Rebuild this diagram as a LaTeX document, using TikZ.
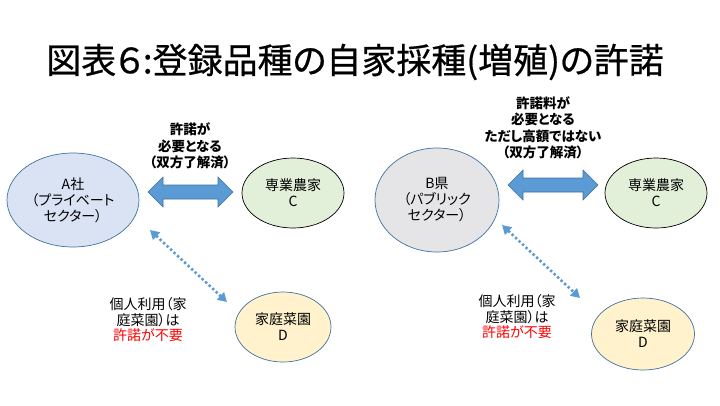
\documentclass[tikz,border=0pt]{standalone}
\usepackage{fontspec}
\setmainfont{Noto Sans CJK JP}[RawFeature=+palt]
\usetikzlibrary{arrows.meta,shapes.geometric,calc}
\definecolor{ablue}{HTML}{DAE3F3}
\definecolor{bgray}{HTML}{E5E5E8}
\definecolor{cgreen}{HTML}{E2F0D9}
\definecolor{dyellow}{HTML}{FFF2CC}
\definecolor{edgeblue}{HTML}{41719C}
\definecolor{arrblue}{HTML}{5B9BD5}
\begin{document}
\begin{tikzpicture}[x=1pt,y=-1pt,
  ell/.style={ellipse,inner sep=0pt,align=center,line width=0.7pt,
    font=\fontsize{14}{16}\selectfont},
  lbl/.style={align=center,font=\fontsize{13.5}{16.5}\selectfont\bfseries},
  note/.style={align=center,font=\fontsize{14}{15.5}\selectfont},
  blk/.style={fill=arrblue,draw=edgeblue,line width=0.6pt,line join=miter},
  dots/.style={draw=arrblue,line width=2.6pt,dash pattern=on 2.4pt off 2.4pt,
    {Triangle[length=9pt,width=10pt]}-{Triangle[length=9pt,width=10pt]}}
]
\useasboundingbox (0,0) rectangle (720,405);
\node (title) at (355,62) {\fontsize{35}{38}\selectfont\addfontfeatures{FakeBold=0.6}図表６:登録品種の自家採種(増殖)の許諾};

% left group
\node[ell,fill=ablue,draw=edgeblue,minimum width=132pt,minimum height=94pt] (A) at (73,200)
  {A社\\（プライベート\\セクター）};
\node[ell,fill=cgreen,draw=black,minimum width=102pt,minimum height=70pt] (C1) at (293,193)
  {専業農家\\C};
\node[ell,fill=dyellow,draw=edgeblue,minimum width=96pt,minimum height=70pt] (D1) at (283,327)
  {家庭菜園\\D};
\node[lbl] (L1) at (190,146) {許諾が\\必要となる\\（双方了解済）};
\node[note] (N1) at (148,320) {個人利用（家\\庭菜園）は\\\textcolor{red}{許諾が不要}};

\coordinate (a1) at (148,192);
\coordinate (a2) at (233,192);
\filldraw[blk] (a1) -- ++(15,-15) -- ++(0,8) -- ($(a2)+(-15,-7)$) -- ++(0,-8) -- (a2)
  -- ++(-15,15) -- ++(0,-8) -- ($(a1)+(15,7)$) -- ++(0,8) -- cycle;

\coordinate (d1) at (150,230);
\coordinate (d2) at (227,302);
\draw[dots] (d1) -- (d2);

% right group
\node[ell,fill=bgray,draw=edgeblue,minimum width=124pt,minimum height=104pt] (B) at (437,200)
  {B県\\（パブリック\\セクター）};
\node[ell,fill=cgreen,draw=black,minimum width=102pt,minimum height=70pt] (C2) at (656,193)
  {専業農家\\C};
\node[ell,fill=dyellow,draw=edgeblue,minimum width=103pt,minimum height=72pt] (D2) at (643,334)
  {家庭菜園\\D};
\node[lbl] (L2) at (543,128) {許諾料が\\必要となる\\ただし高額ではない\\（双方了解済）};
\node[note] (N2) at (517,317) {個人利用（家\\庭菜園）は\\\textcolor{red}{許諾が不要}};

\coordinate (b1) at (508,185);
\coordinate (b2) at (598,185);
\filldraw[blk] (b1) -- ++(15,-15) -- ++(0,8) -- ($(b2)+(-15,-7)$) -- ++(0,-8) -- (b2)
  -- ++(-15,15) -- ++(0,-8) -- ($(b1)+(15,7)$) -- ++(0,8) -- cycle;

\coordinate (e1) at (502,225);
\coordinate (e2) at (580,298);
\draw[dots] (e1) -- (e2);
\end{tikzpicture}
\end{document}
